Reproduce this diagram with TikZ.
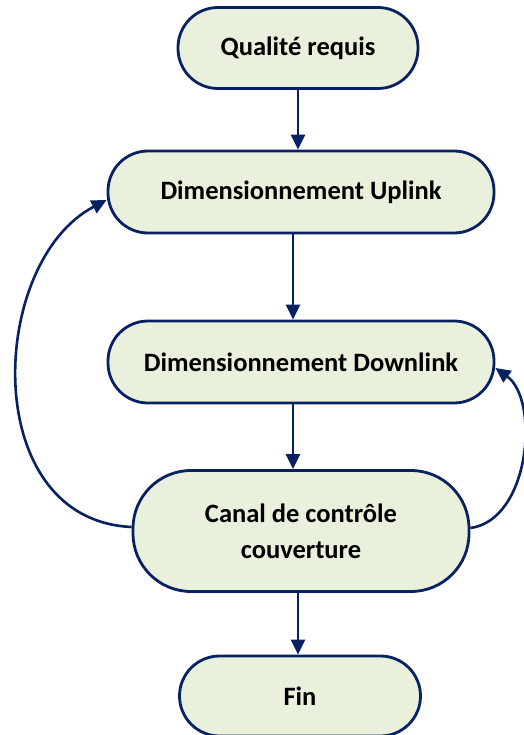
\documentclass[tikz,border=0pt]{standalone}
\usepackage{fontspec}
\setmainfont{Carlito}
\usetikzlibrary{arrows.meta}
\definecolor{navy}{RGB}{8,33,98}
\definecolor{leaf}{RGB}{233,240,220}
\begin{document}
\begin{tikzpicture}[x=1pt,y=-1pt,
  stepbox/.style={draw=navy, fill=leaf, line width=2.8pt, rounded corners=40pt,
    align=center, font=\fontsize{26.5}{36}\selectfont\bfseries, inner sep=0pt},
  flow/.style={draw=navy, line width=2.6pt, -{Triangle[length=15pt,width=14pt]}}]
\useasboundingbox (0,0) rectangle (523,735);
\node[stepbox, minimum width=240pt, minimum height=81pt] (q) at (298,48) {Qualité requis};
\node[stepbox, minimum width=386pt, minimum height=82pt] (up) at (301,192) {Dimensionnement Uplink};
\node[stepbox, minimum width=386pt, minimum height=82pt] (down) at (301,362) {Dimensionnement Downlink};
\node[stepbox, rounded corners=58pt, minimum width=336pt, minimum height=121pt] (canal) at (301,531) {Canal de contrôle\\couverture};
\node[stepbox, minimum width=241pt, minimum height=80pt] (fin) at (300,696) {Fin};
\draw[flow] (q.south -| 298,0) -- (up.north -| 298,0);
\draw[flow] (up.south -| 293,0) -- (down.north -| 293,0);
\draw[flow] (down.south -| 293,0) -- (canal.north -| 293,0);
\draw[flow] (canal.south -| 298,0) -- (fin.north -| 298,0);
\draw[flow] (canal.west |- 0,527) .. controls (-22,520) and (-12,262) .. (up.west |- 0,200);
\draw[flow] (canal.east |- 0,528) .. controls (530,520) and (540,400) .. (down.east |- 0,368);
\end{tikzpicture}
\end{document}
